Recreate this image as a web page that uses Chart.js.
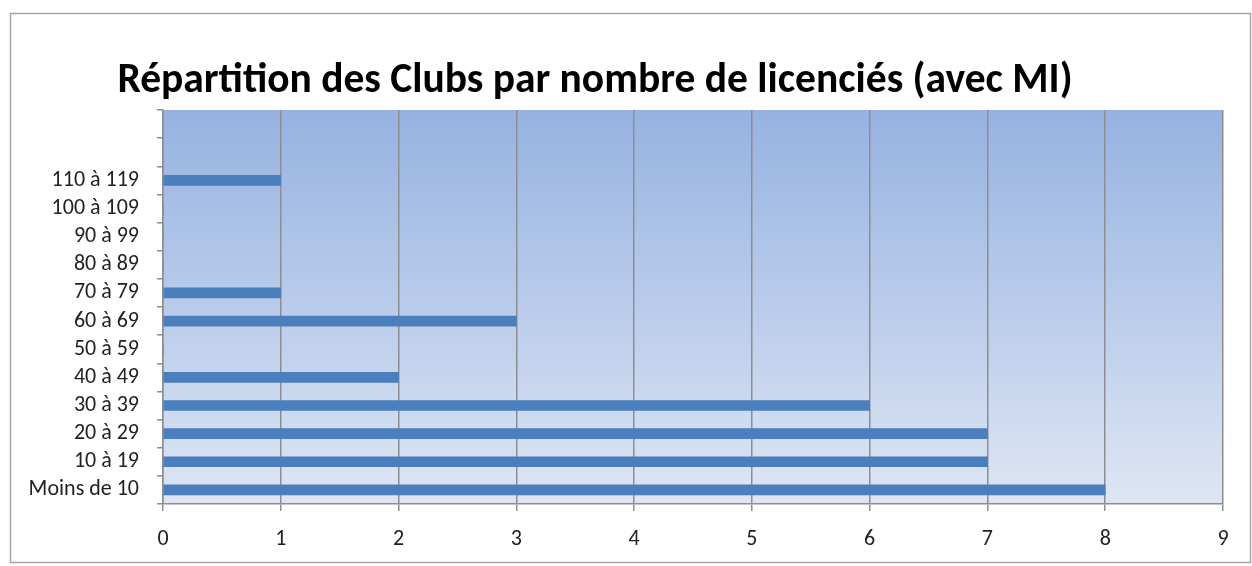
<!DOCTYPE html>
<html>
<head>
<meta charset="utf-8">
<script src="https://cdn.jsdelivr.net/npm/chart.js@4/dist/chart.umd.min.js"></script>
<style>
  html, body { margin: 0; padding: 0; background: #fff; }
  #wrap { width: 1252px; height: 566px; }
</style>
</head>
<body>
<div id="wrap"><canvas id="myChart" width="1252" height="566"></canvas></div>
<script>
// categories, bottom to top (the two top slots are empty in the original)
const categories = ['Moins de 10', '10 à 19', '20 à 29', '30 à 39', '40 à 49', '50 à 59',
  '60 à 69', '70 à 79', '80 à 89', '90 à 99', '100 à 109', '110 à 119', '', ''];
const clubs = [8, 7, 7, 6, 2, 0, 3, 1, 0, 0, 0, 1, null, null];
const xTicks = [0, 1, 2, 3, 4, 5, 6, 7, 8, 9];
const chartTitle = 'Répartition des Clubs par nombre de licenciés (avec MI)';

const colors = {
  bar: '#4a7ebd',
  grid: '#8e8e8e',
  top: '#96b2e1',
  bottom: '#dee6f4',
  frame: '#a6a6a6',
};
const fontFamily = 'Carlito, Calibri, "Open Sans", sans-serif';

const backdrop = {
  id: 'backdrop',
  beforeDraw(chart) {
    const { ctx, chartArea: a } = chart;
    ctx.save();
    ctx.fillStyle = '#fff';
    ctx.fillRect(0, 0, chart.width, chart.height);
    ctx.strokeStyle = colors.frame;
    ctx.lineWidth = 1.5;
    ctx.strokeRect(10.5, 13.5, 1240, 549);
    const g = ctx.createLinearGradient(0, a.top, 0, a.bottom);
    g.addColorStop(0, colors.top);
    g.addColorStop(1, colors.bottom);
    ctx.fillStyle = g;
    ctx.fillRect(a.left, a.top, a.right - a.left, a.bottom - a.top);
    ctx.fillStyle = '#000';
    ctx.font = 'bold 41.5px ' + fontFamily;
    ctx.textAlign = 'center';
    ctx.textBaseline = 'alphabetic';
    ctx.fillText(chartTitle, 595, 92);
    ctx.restore();
  },
};

const ctx = document.getElementById('myChart').getContext('2d');
new Chart(ctx, {
  type: 'bar',
  data: {
    labels: categories,
    datasets: [{
      data: clubs,
      backgroundColor: colors.bar,
      barThickness: 10,
    }],
  },
  options: {
    indexAxis: 'y',
    responsive: false,
    animation: false,
    layout: { padding: { top: 110, right: 29, left: 0, bottom: 0 } },
    plugins: {
      legend: { display: false },
      tooltip: { enabled: false },
    },
    scales: {
      x: {
        min: 0,
        max: 9,
        afterBuildTicks(scale) {
          scale.ticks = xTicks.map(v => ({ value: v }));
        },
        afterFit(scale) { scale.height = 62; },
        grid: { color: colors.grid, lineWidth: 1.5, tickLength: 7 },
        border: { color: colors.grid, width: 1.5 },
        ticks: { color: '#222', padding: 15, font: { family: fontFamily, size: 22 } },
      },
      y: {
        reverse: true,
        afterFit(scale) { scale.width = 163; },
        grid: { drawOnChartArea: false, color: colors.grid, lineWidth: 1.5, tickLength: 6 },
        border: { color: colors.grid, width: 1.5 },
        ticks: { color: '#222', padding: 18, autoSkip: false, font: { family: fontFamily, size: 22 } },
      },
    },
  },
  plugins: [backdrop],
});
</script>
</body>
</html>
